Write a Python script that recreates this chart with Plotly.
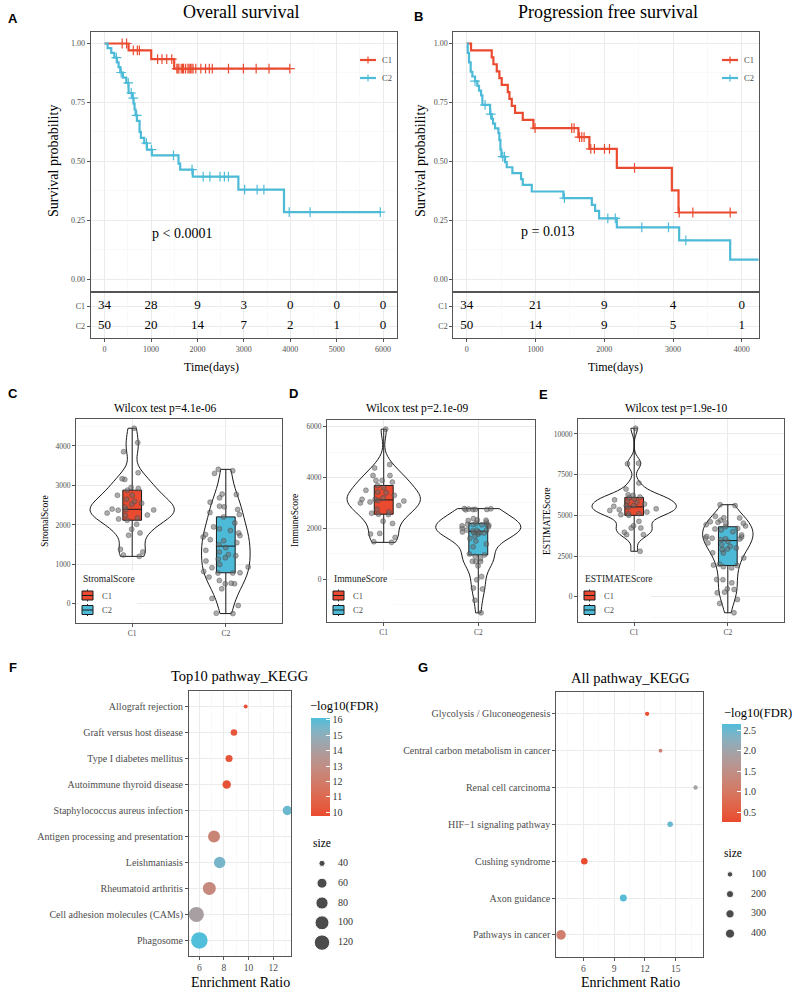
import numpy as np
import plotly.graph_objects as go

W, H = 793, 992
def fx(x): return x / W
def fy(y): return 1 - y / H

SERIF = "Liberation Serif"
SANS = "Liberation Sans"
RED = "#EA4B30"
BLUE = "#4DBBD8"
TXT = "#4D4D4D"
GRID = "#EBEBEB"
GRID_MINOR = "#F5F5F5"

groups = ["C1", "C2"]

# ---------------- Panel A : overall survival ----------------
os_c1_time = [0, 516, 1004, 1499, 3990]
os_c1_surv = [1.0, 0.971, 0.934, 0.893, 0.893]
os_c1_censor = [378, 473, 618, 705, 749, 1142, 1236, 1338, 1447, 1556, 1580, 1600, 1651, 1680,
                1702, 1745, 1796, 1820, 1847, 1880, 1905, 1964, 2073, 2175, 2255, 2320, 2669,
                2990, 3265, 3542, 3990]
os_c2_time = [0, 65, 143, 208, 265, 301, 337, 394, 466, 516, 602, 624, 645, 667, 695, 753, 781,
              853, 911, 1018, 1592, 1628, 1900, 2882, 3865, 5940]
os_c2_surv = [1.0, 0.98, 0.96, 0.94, 0.92, 0.90, 0.877, 0.855, 0.833, 0.79, 0.768, 0.745, 0.72,
              0.695, 0.672, 0.625, 0.60, 0.577, 0.55, 0.525, 0.49, 0.465, 0.435, 0.38, 0.285, 0.285]
os_c2_censor = [254, 356, 509, 574, 618, 691, 901, 1010, 1483, 1883, 2123, 2268, 2487, 2581,
                2668, 3017, 3286, 3432, 3977, 4428, 5940]
os_risk_time = [0, 1000, 2000, 3000, 4000, 5000, 6000]
os_risk_c1 = [34, 28, 9, 3, 0, 0, 0]
os_risk_c2 = [50, 20, 14, 7, 2, 1, 0]

# ---------------- Panel B : progression free survival ----------------
pfs_c1_time = [0, 63, 364, 388, 437, 475, 509, 597, 621, 655, 703, 815, 970, 1624, 1784, 2183,
               2983, 3080, 3929]
pfs_c1_surv = [1.0, 0.971, 0.941, 0.912, 0.882, 0.853, 0.824, 0.794, 0.765, 0.735, 0.706, 0.676,
               0.641, 0.603, 0.553, 0.472, 0.377, 0.283, 0.283]
pfs_c1_censor = [994, 1527, 1561, 1640, 1673, 1707, 1804, 1857, 2003, 2076, 2440, 3090, 3288, 3831]
pfs_c2_time = [0, 15, 34, 58, 82, 121, 155, 179, 209, 228, 340, 364, 383, 412, 461, 475, 490, 504,
               558, 582, 664, 790, 815, 946, 1406, 1819, 1867, 1925, 2183, 3089, 3831, 4244]
pfs_c2_surv = [1.0, 0.96, 0.92, 0.88, 0.86, 0.84, 0.82, 0.80, 0.78, 0.74, 0.70, 0.68, 0.66, 0.64,
               0.62, 0.59, 0.55, 0.52, 0.497, 0.475, 0.45, 0.425, 0.40, 0.372, 0.344, 0.315, 0.29,
               0.258, 0.22, 0.165, 0.083, 0.083]
pfs_c2_censor = [121, 267, 349, 524, 548, 1421, 2052, 2160, 2546, 2934, 3186]
pfs_risk_time = [0, 1000, 2000, 3000, 4000]
pfs_risk_c1 = [34, 21, 9, 4, 0]
pfs_risk_c2 = [50, 14, 9, 5, 1]

# ---------------- Panels C-E : scores ----------------
stromal_c1 = [4449, 4085, 3856, 3322, 3169, 3153, 2924, 2949, 2754, 2525, 2373, 2390, 2246, 2178,
              2119, 2017, 1890, 1737, 1797, 1381, 1314, 1237, 1203, 2150, 2250, 2300, 2380, 2400,
              2450, 2550, 2650, 2750, 2880, 2600]
stromal_c2 = [3305, 3407, 3373, 2780, 2771, 2686, 2576, 2458, 2475, 2390, 2314, 2263, 2203, 2051,
              1856, 1797, 1695, 1754, 1729, 1627, 1551, 1356, 1314, 1220, 1169, 1136, 1085, 932,
              915, 822, 788, 780, 780, 678, 593, 508, 508, 525, 381, 136, -42, -246, -237, 1000,
              1250, 1424, 1500, 1600, 1900, 1950]
immune_c1 = [5909, 4513, 4383, 4083, 4083, 3887, 3887, 3822, 3430, 3691, 3143, 3078, 3039, 2543,
             2648, 2557, 2282, 2191, 1800, 1774, 1643, 1448, 1474, 2600, 2750, 2900, 3000, 3100,
             3143, 3200, 3300, 3400, 3500, 3600]
immune_c2 = [2778, 2760, 2739, 2750, 2745, 2770, 2730, 2322, 2310, 2387, 2330, 2126, 2165, 2140,
             2165, 2061, 1930, 1935, 1774, 1826, 1820, 1865, 1860, 1930, 1604, 1382, 1278, 952,
             991, 691, 700, 690, 522, 104, -26, -352, -391, -835, 800, 900, 1500, 1700, 1839,
             1900, 2000, 2100, 2150, 2200, 2250, -1330]
estimate_c1 = [10348, 8205, 8164, 6980, 6613, 6266, 6225, 6123, 5858, 6001, 5592, 5551, 5347, 5041,
               5102, 4633, 4367, 4225, 4225, 3817, 3960, 3817, 2796, 5000, 5100, 5200, 5300, 5400,
               5490, 5600, 5700, 5800, 5950, 6100]
estimate_c2 = [5653, 5600, 4939, 4531, 4837, 4850, 4600, 4700, 4572, 4520, 4429, 4164, 3674, 3613,
               3600, 3551, 3560, 2939, 2694, 2388, 1919, 1776, 1061, 1050, 857, 449, 286, 245, 490,
               -408, -163, -980, 2000, 1850, 1950, 2700, 2900, 3000, 3100, 3200, 3306, 3400, 3500,
               3700, 3800, 4000, 4100, 4200, 4300, 4350]
wilcox_p = ["4.1e-06", "2.1e-09", "1.9e-10"]
score_names = ["StromalScore", "ImmuneScore", "ESTIMATEScore"]

# ---------------- Panel F : top10 KEGG ----------------
path_f = ["Allograft rejection", "Graft versus host disease", "Type I diabetes mellitus",
          "Autoimmune thyroid disease", "Staphylococcus aureus infection",
          "Antigen processing and presentation", "Leishmaniasis", "Rheumatoid arthritis",
          "Cell adhesion molecules (CAMs)", "Phagosome"]
er_f = [9.76, 8.81, 8.41, 8.22, 13.14, 7.19, 7.65, 6.81, 5.76, 6.0]
fdr_f = [10.0, 10.2, 10.15, 10.05, 15.7, 12.4, 15.5, 12.7, 14.1, 16.1]
size_f = [37, 41, 43, 50, 55, 77, 72, 88, 115, 136]
size_breaks_f = [40, 60, 80, 100, 120]
cbar_ticks_f = [10, 11, 12, 13, 14, 15, 16]

# ---------------- Panel G : all KEGG ----------------
path_g = ["Glycolysis / Gluconeogenesis", "Central carbon metabolism in cancer",
          "Renal cell carcinoma", "HIF\u22121 signaling pathway", "Cushing syndrome",
          "Axon guidance", "Pathways in cancer"]
er_g = [12.22, 13.52, 16.93, 14.46, 6.1, 9.9, 3.83]
fdr_g = [0.28, 1.25, 1.95, 2.5, 0.3, 2.6, 1.15]
size_g = [68, 65, 69, 100, 155, 181, 460]
size_breaks_g = [100, 200, 300, 400]
cbar_ticks_g = [0.5, 1.0, 1.5, 2.0, 2.5]


# ---------- helpers ----------
def hex_rgb(h):
    return np.array([int(h[i:i + 2], 16) / 255 for i in (1, 3, 5)])

M = np.array([[0.4124564, 0.3575761, 0.1804375], [0.2126729, 0.7151522, 0.0721750],
              [0.0193339, 0.1191920, 0.9503041]])
MI = np.linalg.inv(M)
WN = np.array([0.95047, 1.0, 1.08883])

def to_lab(h):
    c = hex_rgb(h)
    lin = np.where(c <= 0.04045, c / 12.92, ((c + 0.055) / 1.055) ** 2.4)
    xyz = M @ lin / WN
    d = 6 / 29
    f = np.where(xyz > d ** 3, np.cbrt(xyz), xyz / (3 * d * d) + 4 / 29)
    return np.array([116 * f[1] - 16, 500 * (f[0] - f[1]), 200 * (f[1] - f[2])])

def from_lab(lab):
    d = 6 / 29
    fyv = (lab[0] + 16) / 116
    f = np.array([fyv + lab[1] / 500, fyv, fyv - lab[2] / 200])
    xyz = np.where(f > d, f ** 3, 3 * d * d * (f - 4 / 29)) * WN
    lin = np.clip(MI @ xyz, 0, 1)
    c = np.where(lin <= 0.0031308, 12.92 * lin, 1.055 * lin ** (1 / 2.4) - 0.055)
    c = np.clip(c, 0, 1)
    return "rgb(%d,%d,%d)" % tuple(np.round(c * 255))

lab_lo, lab_hi = to_lab("#EA4A2E"), to_lab("#4FBEDB")
CSCALE = [[t, from_lab(lab_lo + (lab_hi - lab_lo) * t)] for t in np.linspace(0, 1, 11)]

def area_pal(vals, vmin, vmax, dmin, dmax):
    v = np.asarray(vals, float)
    return list(dmin + (dmax - dmin) * np.sqrt(np.clip((v - vmin) / (vmax - vmin), 0, 1)))

def nrd0(x):
    x = np.asarray(x, float)
    q75, q25 = np.percentile(x, [75, 25])
    return 0.9 * min(x.std(ddof=1), (q75 - q25) / 1.34) * len(x) ** -0.2

def kde_max(x, bw):
    x = np.asarray(x, float)
    g = np.linspace(x.min(), x.max(), 600)
    d = np.exp(-0.5 * ((g[:, None] - x[None, :]) / bw) ** 2).sum(1) / (len(x) * bw * np.sqrt(2 * np.pi))
    return d.max()


fig = go.Figure()

# ---------- KM panels ----------
def km(times, survs, cens, color, xa, ya):
    fig.add_trace(go.Scatter(x=times, y=survs, mode="lines", showlegend=False,
                             line=dict(color=color, width=2.2, shape="hv"),
                             xaxis=xa, yaxis=ya, hoverinfo="skip"))
    t = np.asarray(times); s = np.asarray(survs)
    cy = [float(s[np.searchsorted(t, c, side="right") - 1]) for c in cens]
    fig.add_trace(go.Scatter(x=cens, y=cy, mode="markers", showlegend=False,
                             marker=dict(symbol="cross-thin", size=7,
                                         line=dict(color=color, width=1.2)),
                             xaxis=xa, yaxis=ya, hoverinfo="skip"))

km(os_c1_time, os_c1_surv, os_c1_censor, RED, "x", "y")
km(os_c2_time, os_c2_surv, os_c2_censor, BLUE, "x", "y")
km(pfs_c1_time, pfs_c1_surv, pfs_c1_censor, RED, "x3", "y3")
km(pfs_c2_time, pfs_c2_surv, pfs_c2_censor, BLUE, "x3", "y3")

for rt, r1, r2, xa, ya in [(os_risk_time, os_risk_c1, os_risk_c2, "x2", "y2"),
                           (pfs_risk_time, pfs_risk_c1, pfs_risk_c2, "x4", "y4")]:
    for g, vals in zip(groups, [r1, r2]):
        fig.add_trace(go.Scatter(x=rt, y=[g] * len(rt), mode="text", text=[str(v) for v in vals],
                                 textfont=dict(family=SERIF, size=13, color="black"),
                                 xaxis=xa, yaxis=ya, showlegend=False, hoverinfo="skip"))

# ---------- violin panels ----------
score_sets = [(stromal_c1, stromal_c2), (immune_c1, immune_c2), (estimate_c1, estimate_c2)]
for k, (a, b) in enumerate(score_sets):
    xa, ya = "x%d" % (5 + k), "y%d" % (5 + k)
    bws = [nrd0(a), nrd0(b)]
    mx = [kde_max(a, bws[0]), kde_max(b, bws[1])]
    for i, (g, vals) in enumerate(zip(groups, [a, b])):
        fig.add_trace(go.Violin(x=[g] * len(vals), y=vals, width=0.9 * mx[i] / max(mx),
                                bandwidth=bws[i], spanmode="hard", points=False,
                                line=dict(color="#1A1A1A", width=1),
                                fillcolor="rgba(255,255,255,0)", showlegend=False,
                                xaxis=xa, yaxis=ya, hoverinfo="skip"))
    for g, vals, col in zip(groups, [a, b], [RED, BLUE]):
        fig.add_trace(go.Box(x=[g] * len(vals), y=vals, width=0.2, fillcolor=col, name=g,
                             line=dict(color="#1A1A1A", width=1), whiskerwidth=0,
                             boxpoints=False, quartilemethod="linear",
                             showlegend=False, xaxis=xa, yaxis=ya, hoverinfo="skip"))
    for g, vals in zip(groups, [a, b]):
        fig.add_trace(go.Box(x=[g] * len(vals), y=vals, width=0.55, boxpoints="all", jitter=1,
                             pointpos=0, fillcolor="rgba(0,0,0,0)",
                             line=dict(width=0, color="rgba(0,0,0,0)"),
                             marker=dict(color="rgba(105,105,105,0.55)", size=5,
                                         line=dict(color="rgba(60,60,60,0.6)", width=0.6)),
                             showlegend=False, xaxis=xa, yaxis=ya, hoverinfo="skip"))

# ---------- KEGG dot plots ----------
cb_common = dict(xref="paper", yref="paper", xanchor="left", yanchor="bottom", lenmode="fraction",
                 thicknessmode="pixels", outlinewidth=0, xpad=0, ypad=0, ticks="inside",
                 ticklen=4, tickcolor="white", tickwidth=1,
                 tickfont=dict(family=SERIF, size=10, color="#333333"))
fig.add_trace(go.Scatter(
    x=er_f, y=path_f, mode="markers", xaxis="x8", yaxis="y8", showlegend=False, hoverinfo="skip",
    marker=dict(size=area_pal(size_f, min(size_f), max(size_f), 4.0, 16.5), color=fdr_f,
                colorscale=CSCALE, cmin=9.74, cmax=16.13, opacity=1, line=dict(width=0),
                colorbar=dict(x=fx(311), y=fy(816), len=98 / H, thickness=19,
                              tickvals=cbar_ticks_f, **cb_common))))
fig.add_trace(go.Scatter(
    x=er_g, y=path_g, mode="markers", xaxis="x9", yaxis="y9", showlegend=False, hoverinfo="skip",
    marker=dict(size=area_pal(size_g, min(size_g), max(size_g), 3.8, 9.6), color=fdr_g,
                colorscale=CSCALE, cmin=0.256, cmax=2.65, opacity=1, line=dict(width=0),
                colorbar=dict(x=fx(722), y=fy(822), len=98 / H, thickness=19,
                              tickvals=cbar_ticks_g,
                              ticktext=["%.1f" % v for v in cbar_ticks_g], **cb_common))))

# size legends
fig.add_trace(go.Scatter(x=[10] * len(size_breaks_f), y=list(range(len(size_breaks_f))),
                         mode="markers", xaxis="x10", yaxis="y10", showlegend=False,
                         hoverinfo="skip",
                         marker=dict(color="black",
                                     size=area_pal(size_breaks_f, min(size_f), max(size_f), 4.0, 16.5))))
fig.add_trace(go.Scatter(x=[26] * len(size_breaks_f), y=list(range(len(size_breaks_f))),
                         mode="text", text=[str(v) for v in size_breaks_f], textposition="middle right",
                         textfont=dict(family=SERIF, size=10, color="#333333"),
                         xaxis="x10", yaxis="y10", showlegend=False, hoverinfo="skip"))
fig.add_trace(go.Scatter(x=[10] * len(size_breaks_g), y=list(range(len(size_breaks_g))),
                         mode="markers", xaxis="x11", yaxis="y11", showlegend=False,
                         hoverinfo="skip",
                         marker=dict(color="black",
                                     size=area_pal(size_breaks_g, min(size_g), max(size_g), 3.8, 9.6))))
fig.add_trace(go.Scatter(x=[31] * len(size_breaks_g), y=list(range(len(size_breaks_g))),
                         mode="text", text=[str(v) for v in size_breaks_g], textposition="middle right",
                         textfont=dict(family=SERIF, size=10, color="#333333"),
                         xaxis="x11", yaxis="y11", showlegend=False, hoverinfo="skip"))

# ---------- axes ----------
def ax(domain, rng=None, **kw):
    d = dict(domain=domain, showline=True, linecolor="#555555", linewidth=1, mirror=True,
             ticks="outside", ticklen=3, tickcolor="#555555", tickwidth=1,
             tickfont=dict(family=SERIF, size=8, color=TXT), showgrid=True, gridcolor=GRID,
             gridwidth=1, zeroline=False, fixedrange=True)
    if rng is not None:
        d["range"] = rng
    d.update(kw)
    return d

minor_grid = lambda vals: dict(tickvals=vals, showgrid=True, gridcolor=GRID_MINOR, gridwidth=0.6, ticks="")
surv_ticks = [0, 0.25, 0.5, 0.75, 1.0]
lay = {}
lay["xaxis"] = ax([fx(90.7), fx(397)], [-300, 6300], anchor="y", tickvals=os_risk_time,
                  showticklabels=False, minor=minor_grid([500, 1500, 2500, 3500, 4500, 5500]))
lay["yaxis"] = ax([fy(291), fy(31.7)], [-0.05, 1.05], anchor="x", tickvals=surv_ticks,
                  ticktext=["%.2f" % v for v in surv_ticks],
                  minor=minor_grid([0.125, 0.375, 0.625, 0.875]))
lay["xaxis2"] = ax([fx(90.7), fx(397)], [-300, 6300], anchor="y2", tickvals=os_risk_time,
                   minor=minor_grid([500, 1500, 2500, 3500, 4500, 5500]))
lay["yaxis2"] = ax([fy(338), fy(293)], [-0.6, 1.65], anchor="x2", type="category",
                   categoryorder="array", categoryarray=["C2", "C1"])
lay["xaxis3"] = ax([fx(453.3), fx(759)], [-195, 4250], anchor="y3", tickvals=pfs_risk_time,
                   showticklabels=False, minor=minor_grid([500, 1500, 2500, 3500]))
lay["yaxis3"] = ax([fy(291), fy(31.7)], [-0.05, 1.05], anchor="x3", tickvals=surv_ticks,
                   ticktext=["%.2f" % v for v in surv_ticks],
                   minor=minor_grid([0.125, 0.375, 0.625, 0.875]))
lay["xaxis4"] = ax([fx(453.3), fx(759)], [-195, 4250], anchor="y4", tickvals=pfs_risk_time,
                   minor=minor_grid([500, 1500, 2500, 3500]))
lay["yaxis4"] = ax([fy(338), fy(293)], [-0.6, 1.65], anchor="x4", type="category",
                   categoryorder="array", categoryarray=["C2", "C1"])
vdoms = [([fx(76), fx(282)], [fy(623), fy(419)]),
         ([fx(327), fx(535)], [fy(622), fy(420)]),
         ([fx(578), fx(784)], [fy(622), fy(419)])]
vranges = [[-485, 4683], [-1690, 6270], [-1546, 10914]]
vticks = [[0, 1000, 2000, 3000, 4000], [0, 2000, 4000, 6000], [0, 2500, 5000, 7500, 10000]]
vminor = [[-500, 500, 1500, 2500, 3500, 4500], [-1000, 1000, 3000, 5000],
          [-1250, 1250, 3750, 6250, 8750]]
for k in range(3):
    n = 5 + k
    lay["xaxis%d" % n] = ax(vdoms[k][0], [-0.6, 1.6], anchor="y%d" % n, type="category",
                            categoryorder="array", categoryarray=groups,
                            tickfont=dict(family=SERIF, size=7.5, color=TXT))
    lay["yaxis%d" % n] = ax(vdoms[k][1], vranges[k], anchor="x%d" % n, tickvals=vticks[k],
                            ticktext=[str(v) for v in vticks[k]],
                            tickfont=dict(family=SERIF, size=7.5, color=TXT),
                            minor=minor_grid(vminor[k]))
lay["xaxis8"] = ax([fx(189), fx(291)], [5.16, 13.44], anchor="y8", tickvals=[6, 8, 10, 12],
                   tickfont=dict(family=SERIF, size=9.5, color=TXT),
                   minor=minor_grid([5, 7, 9, 11, 13]))
lay["yaxis8"] = ax([fy(956), fy(691)], [-0.6, 9.6], anchor="x8", type="category",
                   categoryorder="array", categoryarray=path_f[::-1],
                   tickfont=dict(family=SERIF, size=10, color=TXT))
lay["xaxis9"] = ax([fx(556.3), fx(703)], [3.37, 17.66], anchor="y9", tickvals=[6, 9, 12, 15],
                   tickfont=dict(family=SERIF, size=9.5, color=TXT),
                   minor=minor_grid([4.5, 7.5, 10.5, 13.5, 16.5]))
lay["yaxis9"] = ax([fy(957), fy(691.7)], [-0.6, 6.6], anchor="x9", type="category",
                   categoryorder="array", categoryarray=path_g[::-1],
                   tickfont=dict(family=SERIF, size=10, color=TXT))
hidden = dict(visible=False, fixedrange=True)
lay["xaxis10"] = dict(domain=[fx(312), fx(372)], range=[0, 60], anchor="y10", **hidden)
lay["yaxis10"] = dict(domain=[fy(952.5), fy(853.5)], range=[4.5, -0.5], anchor="x10", **hidden)
lay["xaxis11"] = dict(domain=[fx(720), fx(780)], range=[0, 60], anchor="y11", **hidden)
lay["yaxis11"] = dict(domain=[fy(943.5), fy(864.5)], range=[3.5, -0.5], anchor="x11", **hidden)

# ---------- annotations & legend keys ----------
ann = []
shapes = []
def A(x, y, text, size, family=SERIF, color="black", angle=0, xanchor="center", bold=False):
    ann.append(dict(x=fx(x), y=fy(y), xref="paper", yref="paper", text=("<b>%s</b>" % text) if bold else text,
                    showarrow=False, xanchor=xanchor, yanchor="middle", textangle=angle,
                    font=dict(family=family, size=size, color=color)))

def S(kind, x0, y0, x1, y1, **kw):
    shapes.append(dict(type=kind, xref="paper", yref="paper", x0=fx(x0), y0=fy(y0), x1=fx(x1),
                       y1=fy(y1), layer="above", **kw))

# KM legends
for lx in (360, 722):
    for g, col, yy in [("C1", RED, 60), ("C2", BLUE, 78)]:
        S("line", lx, yy, lx + 16, yy, line=dict(color=col, width=2.2))
        S("line", lx + 8, yy - 3.5, lx + 8, yy + 3.5, line=dict(color=col, width=1.2))
        A(lx + 20, yy, g, 8.5, color=TXT, xanchor="left")

# score legends (boxplot keys)
for k, lx in enumerate([81, 332, 583]):
    S("rect", lx - 3, 571, lx + 56 + 6 * k, 619, fillcolor="white", line=dict(width=0))
    A(lx, 579, score_names[k], 9.5, color="#222222", xanchor="left")
    for g, col, yy in [("C1", RED, 595.5), ("C2", BLUE, 610)]:
        S("line", lx + 6.5, yy - 6, lx + 6.5, yy + 6, line=dict(color="#333333", width=1))
        S("rect", lx + 1, yy - 4.5, lx + 12, yy + 4.5, fillcolor=col,
          line=dict(color="#1A1A1A", width=1))
        S("line", lx + 1, yy, lx + 12, yy, line=dict(color="#1A1A1A", width=1))
        A(lx + 19, yy, g, 8.5, color=TXT, xanchor="left")

for lt, x, y in [("A", 13, 18), ("B", 418, 17), ("C", 13, 393), ("D", 293, 393), ("E", 543, 394),
                 ("F", 13, 667), ("G", 423, 667)]:
    A(x, y, lt, 13, family=SANS, bold=True)
A(241, 12, "Overall survival", 18)
A(608, 12, "Progression free survival", 18)
A(53, 161, "Survival probability", 14, angle=-90)
A(420, 161, "Survival probability", 14, angle=-90)
A(182, 233, "p &lt; 0.0001", 14)
A(547, 231, "p = 0.013", 14)
A(211, 367, "Time(days)", 12)
A(615, 367, "Time(days)", 12)
for k, (cx, yl) in enumerate([(165, 45), (417, 295), (676, 547)]):
    A(cx, 408, "Wilcox test p=%s" % wilcox_p[k], 11.5)
    A(yl, 521, score_names[k], 9.5, angle=-90)
A(240, 676, "Top10 pathway_KEGG", 14.5)
A(240, 982, "Enrichment Ratio", 14)
A(630, 678, "All pathway_KEGG", 14.5)
A(630, 982, "Enrichment Ratio", 14)
A(308, 706, "\u2212log10(FDR)", 12.5, xanchor="left")
A(722, 713, "\u2212log10(FDR)", 12.5, xanchor="left")
A(311, 843, "size", 11.5, xanchor="left")
A(722, 853, "size", 11.5, xanchor="left")

fig.update_layout(width=W, height=H, margin=dict(l=0, r=0, t=0, b=0), paper_bgcolor="white",
                  plot_bgcolor="white", boxmode="overlay", violinmode="overlay", showlegend=False,
                  annotations=ann, shapes=shapes, **lay)
fig.write_html("out.html", config={"displayModeBar": False, "staticPlot": True},
               post_script="document.body.style.margin='0';document.body.style.padding='0';"
                           "document.documentElement.style.overflow='hidden';")
